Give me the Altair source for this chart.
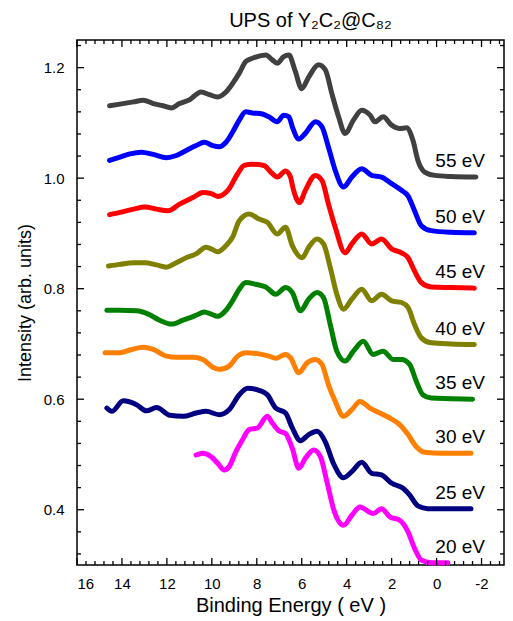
import altair as alt
import pandas as pd

# ---------------- data ----------------
series_names = ["55 eV", "50 eV", "45 eV", "40 eV", "35 eV", "30 eV", "25 eV", "20 eV"]
series_colors = ["#404040", "#0000FF", "#FF0000", "#808000", "#008000", "#FF8000", "#000080", "#FF00FF"]

energy_55 = [14.55, 14.09, 13.49, 13.05, 12.61, 12.17, 11.80, 11.44, 10.99, 10.48, 10.11, 9.74, 9.37, 9.08,
             8.78, 8.49, 8.19, 7.60, 7.31, 7.09, 6.80, 6.57, 6.30, 6.00, 5.69, 5.25, 4.95, 4.66, 4.36, 4.07,
             3.70, 3.33, 2.96, 2.74, 2.38, 2.00, 1.64, 1.34, 1.05, 0.83, 0.53, 0.09, -0.65, -1.75]
intensity_55 = [1.131, 1.134, 1.138, 1.141, 1.135, 1.131, 1.127, 1.135, 1.142, 1.156, 1.151, 1.147, 1.156, 1.171,
                1.190, 1.211, 1.217, 1.223, 1.214, 1.208, 1.220, 1.223, 1.195, 1.162, 1.183, 1.205, 1.196, 1.153,
                1.111, 1.081, 1.105, 1.123, 1.114, 1.102, 1.111, 1.096, 1.090, 1.091, 1.068, 1.032, 1.011, 1.005,
                1.003, 1.002]

energy_50 = [14.55, 14.09, 13.64, 13.13, 12.61, 12.02, 11.58, 11.14, 10.70, 10.33, 9.96, 9.67, 9.37, 9.08,
             8.78, 8.49, 8.19, 7.75, 7.46, 7.09, 6.80, 6.57, 6.42, 6.13, 5.84, 5.39, 5.10, 4.81, 4.51, 4.14,
             3.77, 3.33, 2.89, 2.45, 2.00, 1.56, 1.27, 0.98, 0.68, 0.24, -0.65, -1.68]
intensity_50 = [1.032, 1.038, 1.044, 1.047, 1.043, 1.037, 1.041, 1.050, 1.059, 1.065, 1.059, 1.057, 1.065, 1.083,
                1.105, 1.120, 1.118, 1.116, 1.111, 1.102, 1.114, 1.111, 1.093, 1.071, 1.081, 1.102, 1.093, 1.056,
                1.014, 0.984, 1.002, 1.017, 1.005, 1.002, 0.990, 0.978, 0.968, 0.941, 0.914, 0.905, 0.902, 0.901]

energy_45 = [14.55, 14.09, 13.49, 12.98, 12.46, 11.95, 11.44, 10.84, 10.40, 10.03, 9.74, 9.23, 8.85, 8.56,
             8.19, 7.68, 7.38, 7.09, 6.72, 6.50, 6.40, 6.10, 5.84, 5.39, 5.10, 4.81, 4.51, 4.07, 3.77, 3.33,
             2.89, 2.45, 2.00, 1.56, 1.27, 0.98, 0.68, 0.24, -0.65, -1.68]
intensity_45 = [0.934, 0.938, 0.944, 0.948, 0.944, 0.941, 0.953, 0.965, 0.974, 0.972, 0.967, 0.981, 1.008, 1.023,
                1.025, 1.023, 1.011, 1.002, 1.013, 1.002, 0.984, 0.956, 0.978, 1.005, 0.996, 0.953, 0.911, 0.865,
                0.881, 0.899, 0.881, 0.890, 0.872, 0.865, 0.856, 0.832, 0.811, 0.803, 0.802, 0.801]

energy_40 = [14.60, 14.09, 13.49, 12.98, 12.46, 12.02, 11.58, 11.14, 10.70, 10.26, 10.03, 9.74, 9.37, 9.08,
             8.78, 8.34, 7.90, 7.53, 7.09, 6.72, 6.42, 5.98, 5.69, 5.32, 5.03, 4.73, 4.44, 4.14, 3.77, 3.33,
             2.89, 2.45, 2.00, 1.56, 1.27, 0.98, 0.68, 0.24, -0.65, -1.68]
intensity_40 = [0.841, 0.844, 0.847, 0.847, 0.843, 0.839, 0.847, 0.856, 0.863, 0.875, 0.872, 0.867, 0.878, 0.893,
                0.923, 0.935, 0.926, 0.920, 0.899, 0.911, 0.878, 0.856, 0.875, 0.890, 0.881, 0.838, 0.790, 0.763,
                0.781, 0.799, 0.778, 0.790, 0.778, 0.775, 0.766, 0.735, 0.711, 0.702, 0.700, 0.699]

energy_35 = [14.67, 14.09, 13.35, 12.83, 12.32, 11.80, 11.28, 10.70, 10.33, 10.03, 9.74, 9.37, 9.08, 8.78,
             8.49, 8.05, 7.60, 7.16, 6.72, 6.42, 6.06, 5.69, 5.32, 5.03, 4.73, 4.44, 4.07, 3.70, 3.26, 2.82,
             2.38, 1.93, 1.56, 1.20, 0.90, 0.61, 0.24, -0.65, -1.60]
intensity_35 = [0.761, 0.761, 0.760, 0.754, 0.743, 0.736, 0.743, 0.752, 0.758, 0.754, 0.750, 0.761, 0.778, 0.799,
                0.811, 0.808, 0.803, 0.790, 0.802, 0.793, 0.760, 0.781, 0.793, 0.784, 0.735, 0.687, 0.669, 0.687,
                0.705, 0.681, 0.687, 0.672, 0.672, 0.663, 0.632, 0.608, 0.602, 0.601, 0.600]

energy_30 = [14.75, 14.09, 13.57, 13.05, 12.61, 12.02, 11.58, 10.84, 10.40, 9.96, 9.67, 9.23, 8.85, 8.49,
             7.90, 7.46, 7.16, 6.72, 6.50, 6.13, 5.76, 5.39, 5.10, 4.81, 4.51, 4.14, 3.77, 3.41, 2.96, 2.52,
             2.08, 1.64, 1.27, 0.90, 0.53, -0.20, -1.53]
intensity_30 = [0.684, 0.684, 0.690, 0.694, 0.690, 0.678, 0.676, 0.676, 0.672, 0.658, 0.654, 0.660, 0.678, 0.684,
                0.682, 0.678, 0.674, 0.681, 0.675, 0.648, 0.666, 0.672, 0.663, 0.626, 0.596, 0.569, 0.581, 0.596,
                0.584, 0.575, 0.566, 0.554, 0.536, 0.514, 0.504, 0.502, 0.502]

energy_25 = [14.67, 14.45, 13.94, 13.35, 12.91, 12.46, 11.88, 11.28, 10.70, 10.26, 9.67, 9.23, 8.78, 8.41,
             7.90, 7.53, 7.16, 6.72, 6.42, 6.06, 5.69, 5.32, 4.95, 4.59, 4.14, 3.77, 3.33, 2.89, 2.45, 2.00,
             1.49, 1.20, 0.83, 0.39, -0.65, -1.53]
intensity_25 = [0.584, 0.578, 0.597, 0.590, 0.579, 0.585, 0.571, 0.569, 0.575, 0.578, 0.572, 0.581, 0.608, 0.620,
                0.616, 0.608, 0.584, 0.575, 0.548, 0.525, 0.536, 0.542, 0.523, 0.484, 0.458, 0.469, 0.486, 0.466,
                0.463, 0.448, 0.439, 0.427, 0.407, 0.402, 0.402, 0.402]

energy_20 = [10.70, 10.40, 10.03, 9.74, 9.45, 9.23, 8.93, 8.63, 8.34, 7.97, 7.53, 7.31, 7.02, 6.72, 6.42,
             6.13, 5.84, 5.47, 5.17, 4.88, 4.59, 4.14, 3.77, 3.41, 2.82, 2.45, 2.08, 1.64, 1.27, 0.98, 0.68,
             0.24, -0.50]
intensity_20 = [0.499, 0.502, 0.496, 0.484, 0.472, 0.478, 0.505, 0.527, 0.545, 0.548, 0.569, 0.557, 0.543, 0.538,
                0.511, 0.475, 0.493, 0.508, 0.496, 0.451, 0.402, 0.372, 0.390, 0.405, 0.393, 0.402, 0.387, 0.381,
                0.360, 0.330, 0.309, 0.304, 0.304]

x_major = [16, 14, 12, 10, 8, 6, 4, 2, 0, -2]
y_major = [0.4, 0.6, 0.8, 1.0, 1.2]

# ---------------- build tables ----------------
energies = [energy_55, energy_50, energy_45, energy_40, energy_35, energy_30, energy_25, energy_20]
intensities = [intensity_55, intensity_50, intensity_45, intensity_40, intensity_35, intensity_30,
               intensity_25, intensity_20]

rows = []
for name, xs, ys in zip(series_names, energies, intensities):
    for i, (xv, yv) in enumerate(zip(xs, ys)):
        rows.append({"series": name, "energy": xv, "intensity": yv, "idx": i})
df = pd.DataFrame(rows)

LABEL_ENERGY = -1.05
label_df = pd.DataFrame({
    "series": series_names,
    "energy": [LABEL_ENERGY] * len(series_names),
    "intensity": [ys[-1] for ys in intensities],
})

# minor ticks every 0.4 eV and every 0.04 intensity units
x_minor = [v for v in (round(16 - 0.4 * k, 1) for k in range(48)) if abs(v % 2) > 1e-6]
y_minor = [v for v in (round(0.32 + 0.04 * k, 2) for k in range(24))
           if abs(v * 5 - round(v * 5)) > 1e-6]

xmaj_df = pd.DataFrame({"v": x_major})
xmin_df = pd.DataFrame({"v": x_minor})
ymaj_df = pd.DataFrame({"v": y_major})
ymin_df = pd.DataFrame({"v": y_minor})

FONT = "Liberation Sans"
W, H = 427, 525
MAJ, MIN = 7, 4

x_scale = alt.Scale(domain=[-3, 16], reverse=True, nice=False, zero=False)
y_scale = alt.Scale(domain=[0.3, 1.25], nice=False, zero=False)

x_axis = alt.Axis(orient="bottom", values=x_major, labelExpr="'' + datum.value",
                  ticks=False, tickSize=0, domain=False, grid=False,
                  labelFont=FONT, labelFontSize=15, labelColor="black", labelPadding=11,
                  title="Binding Energy ( eV )", titleFont=FONT, titleFontSize=20,
                  titleFontWeight="normal", titleColor="black", titlePadding=4)
y_axis = alt.Axis(orient="left", values=y_major, format=".1f",
                  ticks=False, tickSize=0, domain=False, grid=False,
                  labelFont=FONT, labelFontSize=15, labelColor="black", labelPadding=13,
                  title="Intensity (arb. units)", titleFont=FONT, titleFontSize=18,
                  titleFontWeight="normal", titleColor="black", titlePadding=9)

color = alt.Color("series:N", scale=alt.Scale(domain=series_names, range=series_colors), legend=None)

lines = alt.Chart(df).mark_line(strokeWidth=5, interpolate="monotone",
                                strokeCap="round", strokeJoin="round").encode(
    x=alt.X("energy:Q", scale=x_scale, axis=x_axis),
    y=alt.Y("intensity:Q", scale=y_scale, axis=y_axis),
    color=color,
    detail="series:N",
    order="idx:Q",
)

labels = alt.Chart(label_df).mark_text(font=FONT, fontSize=19, dy=-16, align="center",
                                       baseline="middle", color="black").encode(
    x=alt.X("energy:Q", scale=x_scale, axis=None),
    y=alt.Y("intensity:Q", scale=y_scale, axis=None),
    text="series:N",
)


# inward tick marks on all four sides of the frame
def x_ticks(data, length, at_bottom):
    base = alt.Chart(data).mark_rule(color="black", strokeWidth=1.3)
    y0 = H if at_bottom else 0
    y1 = H - length if at_bottom else length
    return base.encode(x=alt.X("v:Q", scale=x_scale, axis=None),
                       y=alt.value(y0), y2=alt.value(y1))


def y_ticks(data, length, at_left):
    base = alt.Chart(data).mark_rule(color="black", strokeWidth=1.3)
    x0 = 0 if at_left else W
    x1 = length if at_left else W - length
    return base.encode(y=alt.Y("v:Q", scale=y_scale, axis=None),
                       x=alt.value(x0), x2=alt.value(x1))


tick_layers = [
    x_ticks(xmaj_df, MAJ, True), x_ticks(xmin_df, MIN, True),
    x_ticks(xmaj_df, MAJ, False), x_ticks(xmin_df, MIN, False),
    y_ticks(ymaj_df, MAJ, True), y_ticks(ymin_df, MIN, True),
    y_ticks(ymaj_df, MAJ, False), y_ticks(ymin_df, MIN, False),
]

chart = alt.layer(lines, labels, *tick_layers).resolve_axis(
    x="independent", y="independent"
).properties(
    width=W,
    height=H,
    title=alt.TitleParams(text="UPS of Y₂C₂@C₈₂", font=FONT, fontSize=20, fontWeight="normal",
                          anchor="middle", dx=20, offset=8, color="black"),
    autosize=alt.AutoSizeParams(type="none"),
    padding={"left": 69, "top": 32, "right": 1, "bottom": 56},
).configure_view(
    stroke="black", strokeWidth=1.5
)

chart.save("out.html", embed_options={"renderer": "svg", "actions": False})
